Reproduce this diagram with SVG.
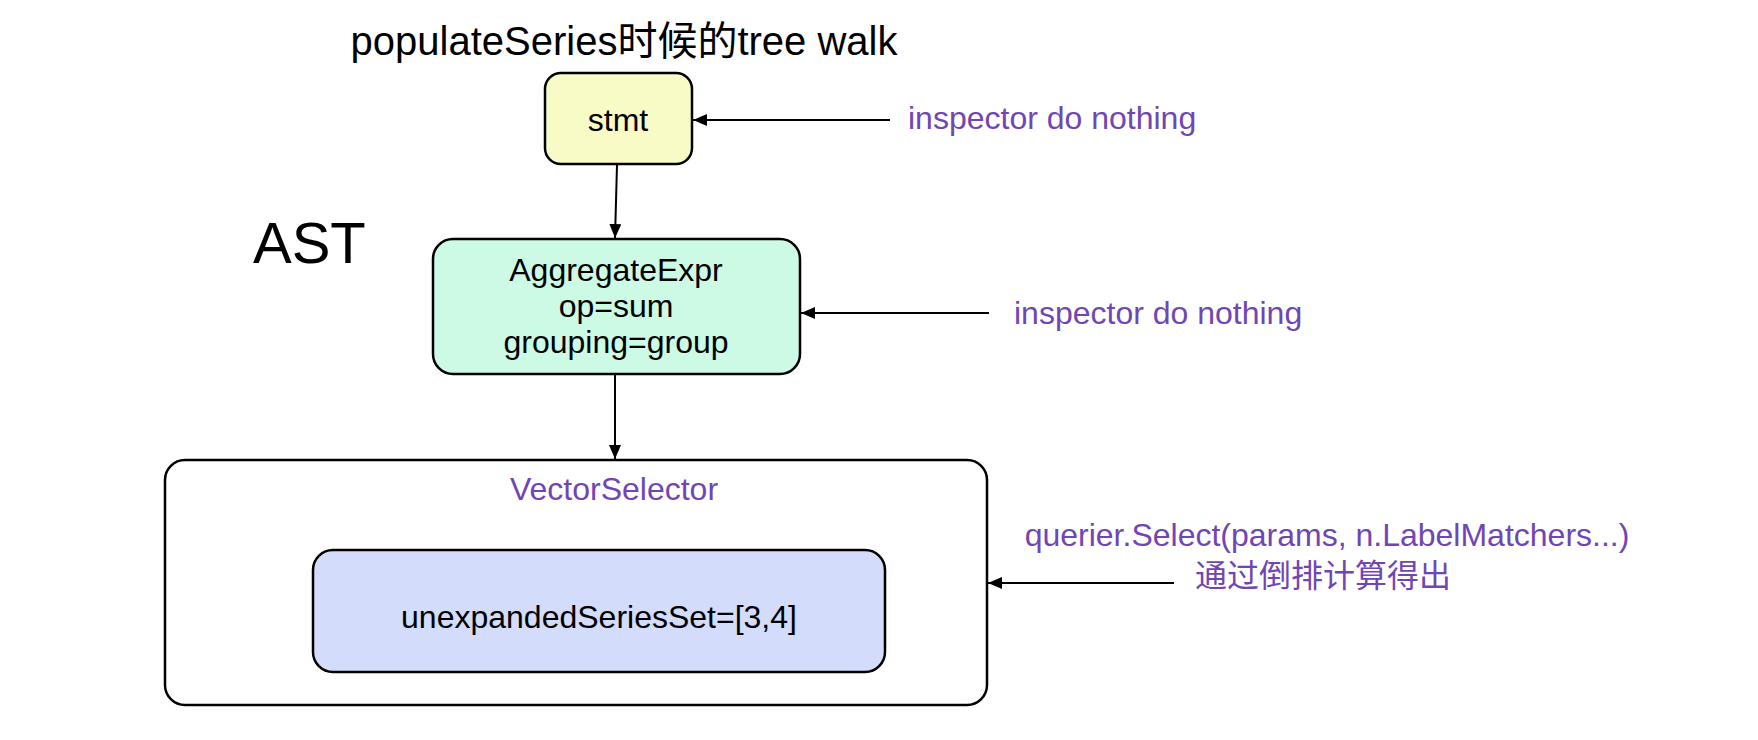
<svg xmlns="http://www.w3.org/2000/svg" width="1758" height="740" viewBox="0 0 1758 740">
<style>
text{font-family:"Liberation Sans",Arial,"Noto Sans CJK SC",sans-serif;}
.t{font-size:32px;fill:#000;text-anchor:middle;}
.p{font-size:32px;fill:#7046b4;}
.box{stroke:#000;stroke-width:2.5;}
.ln{stroke:#000;stroke-width:2;fill:none;marker-end:url(#ah);}
</style>
<defs>
<marker id="ah" viewBox="0 0 14 12" refX="14" refY="6" markerWidth="14" markerHeight="12" markerUnits="userSpaceOnUse" orient="auto">
<path d="M0,0 L14,6 L0,12 Z" fill="#000"/>
</marker>
</defs>
<rect width="1758" height="740" fill="#fff"/>
<g id="title"><text x="624" y="55" style="font-size:40px;text-anchor:middle;fill:#000">populateSeries时候的tree walk</text></g>
<g id="ast"><text x="253" y="263" style="font-size:58px;fill:#000">AST</text></g>
<g id="stmt">
<rect class="box" x="545" y="73" width="147" height="91" rx="16" fill="#f8fbc6"/>
<text class="t" x="618" y="131">stmt</text>
</g>
<g id="aggregate">
<rect class="box" x="433" y="239" width="367" height="135" rx="20" fill="#ccfae5"/>
<text class="t" x="616" y="281">AggregateExpr</text>
<text class="t" x="616" y="317">op=sum</text>
<text class="t" x="616" y="353">grouping=group</text>
</g>
<g id="vectorselector">
<rect class="box" x="165" y="460" width="822" height="245" rx="20" fill="#fff"/>
<text class="p" x="614" y="500" style="text-anchor:middle">VectorSelector</text>
</g>
<g id="series">
<rect class="box" x="313" y="550" width="572" height="122" rx="20" fill="#d3dcfb"/>
<text class="t" x="599" y="628">unexpandedSeriesSet=[3,4]</text>
</g>
<g id="labels">
<text class="p" x="908" y="129">inspector do nothing</text>
<text class="p" x="1014" y="324">inspector do nothing</text>
<text class="p" x="1327" y="546" style="text-anchor:middle">querier.Select(params, n.LabelMatchers...)</text>
<text class="p" x="1323" y="587" style="text-anchor:middle">通过倒排计算得出</text>
</g>
<g id="connectors">
<line class="ln" x1="890" y1="120" x2="693" y2="120"/>
<line class="ln" x1="617" y1="165" x2="615" y2="238"/>
<line class="ln" x1="989" y1="313" x2="801" y2="313"/>
<line class="ln" x1="615" y1="375" x2="615" y2="459"/>
<line class="ln" x1="1174" y1="583" x2="988" y2="583"/>
</g>
</svg>
